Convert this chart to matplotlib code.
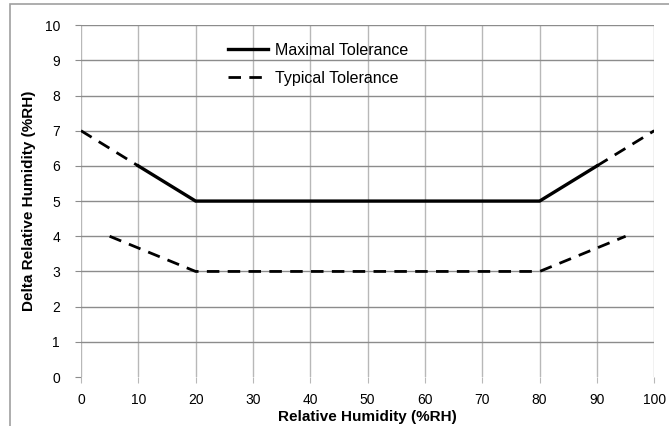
import matplotlib
matplotlib.use('Agg')
import matplotlib.pyplot as plt
from matplotlib.patches import Rectangle

plt.rcParams['font.family'] = ['Liberation Sans', 'DejaVu Sans']

# maximal tolerance (solid part + dashed extensions)
max_x = [10, 20, 80, 90]
max_y = [6, 5, 5, 6]
max_ext_left_x = [0, 10]
max_ext_left_y = [7, 6]
max_ext_right_x = [90, 100]
max_ext_right_y = [6, 7]

# typical tolerance
typ_x = [5, 20, 80, 95]
typ_y = [4, 3, 3, 4]

x_ticks = list(range(0, 101, 10))
y_ticks = list(range(0, 11))

fig = plt.figure(figsize=(6.69, 4.26), dpi=100)
ax = fig.add_axes([0.121, 0.115, 0.857, 0.826])

dash = (0, (4.5, 3))
ax.plot(max_x, max_y, color='black', linewidth=2.4, label='Maximal Tolerance',
        solid_joinstyle='miter')
ax.plot(max_ext_left_x, max_ext_left_y, color='black', linewidth=2, linestyle=dash)
ax.plot(max_ext_right_x, max_ext_right_y, color='black', linewidth=2, linestyle=dash)
ax.plot(typ_x, typ_y, color='black', linewidth=2, linestyle=dash, label='Typical Tolerance')

ax.set_xlim(0, 100)
ax.set_ylim(0, 10)
ax.set_xticks(x_ticks)
ax.set_yticks(y_ticks)
ax.grid(True, axis='x', color='#b8b8b8', linewidth=1)
ax.grid(True, axis='y', color='#8c8c8c', linewidth=1)
ax.get_ygridlines()[0].set_visible(False)
ax.set_axisbelow(True)
for spine in ax.spines:
    ax.spines[spine].set_visible(False)
ax.tick_params(axis='x', length=4, color='#b8b8b8', labelsize=10, pad=7.5, labelcolor='black')
ax.tick_params(axis='y', length=4, color='#8c8c8c', labelsize=10, pad=11, labelcolor='black')

ax.set_xlabel('Relative Humidity (%RH)', fontsize=11, fontweight='bold', labelpad=2.5)
ax.set_ylabel('Delta Relative Humidity (%RH)', fontsize=11, fontweight='bold', labelpad=6)

ax.legend(loc='upper left', bbox_to_anchor=(0.232, 0.99), frameon=False,
          fontsize=11.5, handlelength=2.5, handletextpad=0.45, labelspacing=0.8)

fig.patches.append(Rectangle((0.015, -0.02), 1.0, 1.01, transform=fig.transFigure,
                             fill=False, edgecolor='#a0a0a0', linewidth=1.2))

fig.savefig('out.png', dpi=100)
